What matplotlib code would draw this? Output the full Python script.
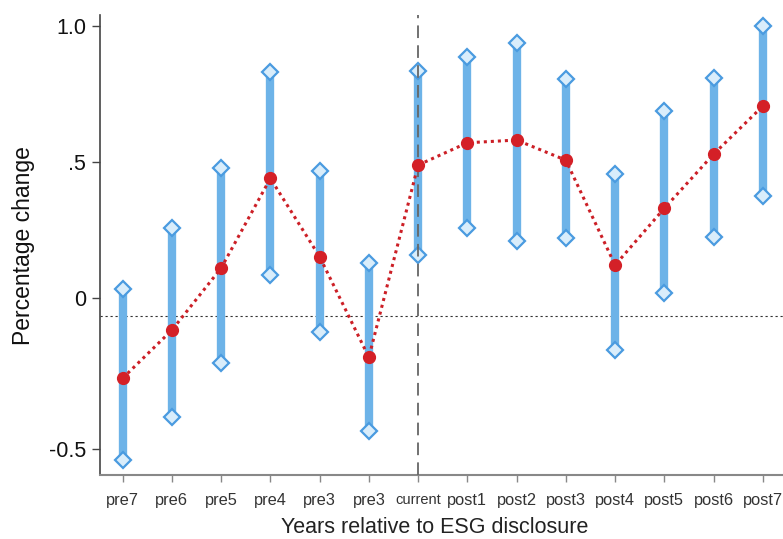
import matplotlib
matplotlib.use("Agg")
import matplotlib.pyplot as plt
import numpy as np

categories = ["pre7", "pre6", "pre5", "pre4", "pre3", "pre3", "current",
              "post1", "post2", "post3", "post4", "post5", "post6", "post7"]
estimates = [-0.295, -0.118, 0.110, 0.440, 0.152, -0.218, 0.489,
             0.571, 0.581, 0.507, 0.121, 0.330, 0.529, 0.706]
ci_upper = [0.032, 0.257, 0.477, 0.832, 0.468, 0.128, 0.835,
            0.885, 0.939, 0.806, 0.456, 0.688, 0.810, 1.000]
ci_lower = [-0.596, -0.436, -0.240, 0.085, -0.126, -0.489, 0.158,
            0.258, 0.211, 0.222, -0.191, 0.017, 0.223, 0.376]
ytick_values = [-0.555, 0.0, 0.5, 1.0]
ytick_labels = ["-0.5", "0", ".5", "1.0"]
ref_level = -0.066
event_index = 6

plt.rcParams['font.family'] = ['Liberation Sans', 'DejaVu Sans']

fig = plt.figure(figsize=(7.83, 5.39), dpi=100)
ax = fig.add_axes([0.1277, 0.1187, 0.8723, 0.853])

x = np.arange(len(categories))
bar_color = "#6db3e8"
edge_color = "#4a9be0"

ax.axhline(ref_level, color="#333333", lw=0.8, ls=(0, (2, 2.5)), zorder=1)
ax.axvline(event_index, color="#666666", lw=1.3, ls=(0, (7, 4)), zorder=4)

ax.vlines(x, ci_lower, ci_upper, color=bar_color, lw=6, zorder=2)
ax.plot(x, ci_upper, ls="none", marker="D", ms=8, mfc="#d9edfb", mec=edge_color, mew=1.6, zorder=3)
ax.plot(x, ci_lower, ls="none", marker="D", ms=8, mfc="#d9edfb", mec=edge_color, mew=1.6, zorder=3)

ax.plot(x, estimates, color="#cc1f26", lw=2.2, ls=(0, (1, 1.3)), zorder=5)
ax.plot(x, estimates, ls="none", marker="o", ms=8.5, color="#d42027", zorder=6)

ax.set_xlim(-0.46, 13.41)
ax.set_ylim(-0.651, 1.04)

ax.set_xticks(x)
ax.set_xticklabels(categories, fontsize=11.8, color="#333333")
for lbl, c in zip(ax.get_xticklabels(), categories):
    if c == "current":
        lbl.set_fontsize(10.5)
ax.set_yticks(ytick_values)
ax.set_yticklabels(ytick_labels, fontsize=15.5, color="#111111")

ax.spines["top"].set_visible(False)
ax.spines["right"].set_visible(False)
ax.spines["left"].set_color("#444444")
ax.spines["bottom"].set_color("#888888")
ax.spines["left"].set_linewidth(1.2)
ax.spines["bottom"].set_linewidth(1.5)
ax.tick_params(axis="y", length=6, width=1, color="#444444", pad=4)
ax.tick_params(axis="x", length=5, width=1, color="#888888", pad=8)

ax.set_ylabel("Percentage change", fontsize=16.5, color="#111111", labelpad=10)
ax.set_xlabel("Years relative to ESG disclosure", fontsize=15.5, color="#222222")
ax.xaxis.set_label_coords(0.49, -0.091)

fig.savefig("out.png", dpi=100, facecolor="white")
